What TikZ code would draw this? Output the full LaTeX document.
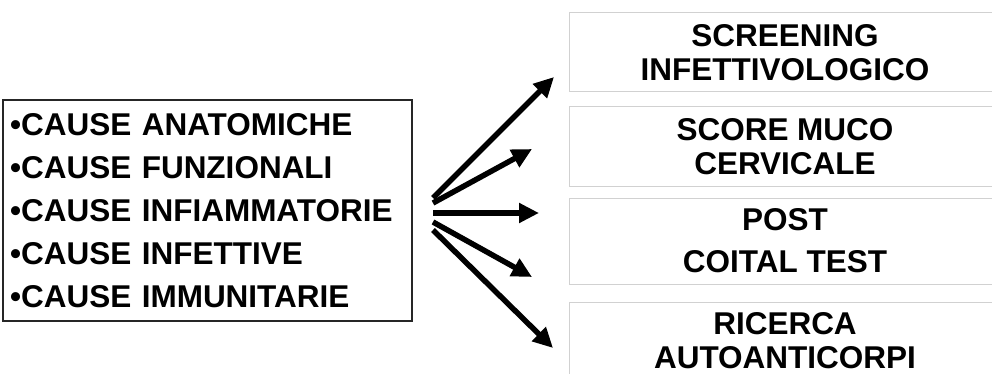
\documentclass[tikz,border=0pt]{standalone}
\usepackage{fontspec}
\setmainfont{Liberation Sans}
\usetikzlibrary{positioning,arrows.meta}
\tikzset{causebox/.style = {draw=black!85,line width=1.5pt,minimum width=409pt,minimum height=221pt,text width=395pt,inner xsep=7pt,align=left,font=\bfseries\fontsize{31.5}{43}\selectfont}}
\tikzset{testbox/.style = {draw=black!18,line width=1pt,minimum width=432pt,inner sep=0pt,align=center,font=\bfseries\fontsize{31.5}{34}\selectfont}}
\tikzset{arr/.style = {-{Triangle[length=20pt,width=19pt]},line width=5.5pt}}

\begin{document}
\begin{tikzpicture}[x=1pt,y=-1pt]
        \useasboundingbox (0,0) rectangle (992,374);
        \begin{scope}
            \node [causebox] (causes) at (207.5,210.5) {•CAUSE ANATOMICHE\\•CAUSE FUNZIONALI\\•CAUSE INFIAMMATORIE\\•CAUSE INFETTIVE\\•CAUSE IMMUNITARIE};

            \node [testbox,minimum height=79pt] (screen) at (785,52.5)  {SCREENING\\INFETTIVOLOGICO};
            \node [testbox,minimum height=79pt] (muco)   at (785,146.5) {SCORE MUCO\\CERVICALE};
            \node [testbox,minimum height=86pt] (pct)    at (785,241)   {POST\\[8pt]COITAL TEST};
            \node [testbox,minimum height=78pt] (auto)   at (785,341)   {RICERCA\\AUTOANTICORPI};

            \coordinate (t1) at (433,198);  \coordinate (h1) at (554,77);
            \coordinate (t2) at (433,203);  \coordinate (h2) at (532,149);
            \coordinate (t3) at (433,213);  \coordinate (h3) at (539,213);
            \coordinate (t4) at (433,222);  \coordinate (h4) at (532,277);
            \coordinate (t5) at (433,230);  \coordinate (h5) at (553,348);

            \foreach \i in {1,...,5}
                \draw [arr] (t\i) -- (h\i);
        \end{scope}
    \end{tikzpicture}
\end{document}
